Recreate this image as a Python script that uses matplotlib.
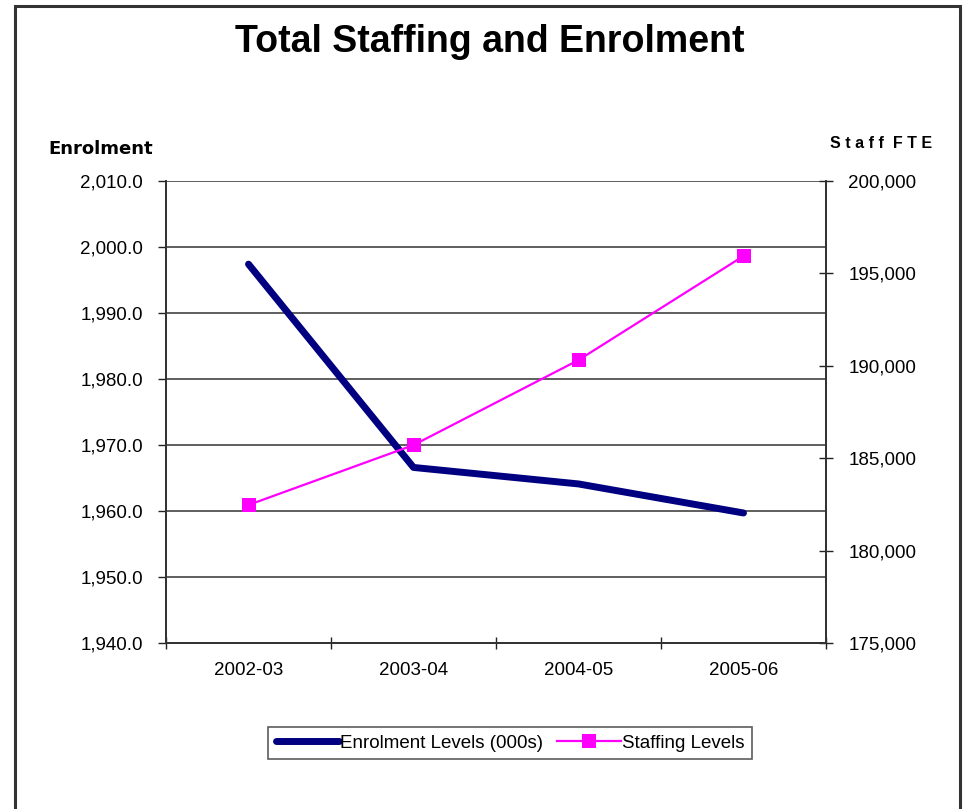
import matplotlib
matplotlib.use("Agg")
import matplotlib.pyplot as plt
from matplotlib.patches import Rectangle

plt.rcParams['font.family'] = ['Liberation Sans', 'DejaVu Sans']

categories = ["2002-03", "2003-04", "2004-05", "2005-06"]
enrolment = [1997.4, 1966.6, 1964.1, 1959.7]
staffing = [182470, 185710, 190310, 195940]
left_ticks = [1940, 1950, 1960, 1970, 1980, 1990, 2000, 2010]
right_ticks = [175000, 180000, 185000, 190000, 195000, 200000]

W, H = 963, 809
fs = 13.5
fig = plt.figure(figsize=(W / 100, H / 100), dpi=100)
fig.patch.set_facecolor('white')

# outer border
fig.patches.append(Rectangle((14.5 / W, -0.05), (959.5 - 14.5) / W, 1.05 - 5.5 / H,
                             transform=fig.transFigure, fill=False,
                             edgecolor='#333333', linewidth=2.2))

l, r, t, b = 166, 826, 181, 643
ax = fig.add_axes([l / W, 1 - b / H, (r - l) / W, (b - t) / H])
x = [i + 0.5 for i in range(len(categories))]

ax.set_xlim(0, len(categories))
ax.set_ylim(left_ticks[0], left_ticks[-1])
ax.set_yticks(left_ticks)
ax.set_yticklabels([f"{v:,.1f}" for v in left_ticks], fontsize=fs)
ax.set_xticks(range(len(categories) + 1))
ax.set_xticklabels([])
ax.set_xticks(x, minor=True)
ax.set_xticklabels(categories, minor=True, fontsize=fs)
ax.tick_params(axis='x', which='minor', length=0, pad=13.5)
ax.tick_params(axis='x', which='major', direction='inout', length=8, width=1, color='#222222')
ax.tick_params(axis='y', direction='out', length=6, width=1, color='#222222', pad=10.5)
for yv in left_ticks:
    ax.axhline(yv, color='#333333', linewidth=1.1, zorder=1)
ax.spines['top'].set_visible(False)
for s in ['left', 'right', 'bottom']:
    ax.spines[s].set_color('#333333')
    ax.spines[s].set_linewidth(1.3)

l1, = ax.plot(x, enrolment, color='#000080', linewidth=5, solid_capstyle='round',
              label='Enrolment Levels (000s)', zorder=3)

ax2 = ax.twinx()
ax2.set_ylim(right_ticks[0], right_ticks[-1])
ax2.set_yticks(right_ticks)
ax2.set_yticklabels([f"{v:,}" for v in right_ticks], fontsize=fs)
ax2.tick_params(axis='y', direction='inout', length=10, width=1, color='#222222', pad=11)
ax2.spines['top'].set_visible(False)
for s in ['left', 'right', 'bottom']:
    ax2.spines[s].set_color('#333333')
    ax2.spines[s].set_linewidth(1.3)
l2, = ax2.plot(x, staffing, color='#FF00FF', linewidth=1.6, marker='s', markersize=9.5,
               markeredgewidth=0, label='Staffing Levels', zorder=4)

fig.text(489.5 / W, 1 - 42 / H, "Total Staffing and Enrolment", ha='center', va='center',
         fontsize=27, fontweight='bold')
fig.text(101 / W, 1 - 149 / H, "Enrolment", ha='center', va='center', fontsize=13,
         fontweight='heavy', family=['DejaVu Sans'])
fig.text(881 / W, 1 - 143 / H, "S t a f f  F T E", ha='center', va='center', fontsize=11.5,
         fontweight='bold')

leg = fig.legend([l1, l2], ['Enrolment Levels (000s)', 'Staffing Levels'], loc='center',
                 bbox_to_anchor=(510 / W, 1 - 743 / H), ncol=2, frameon=True, fancybox=False,
                 shadow=False, fontsize=fs, handlelength=3.4, handletextpad=0.05,
                 columnspacing=0.75, borderpad=0.4, borderaxespad=0)
leg.get_frame().set_edgecolor('#333333')
leg.get_frame().set_linewidth(1.2)

fig.savefig("out.png", dpi=100)
